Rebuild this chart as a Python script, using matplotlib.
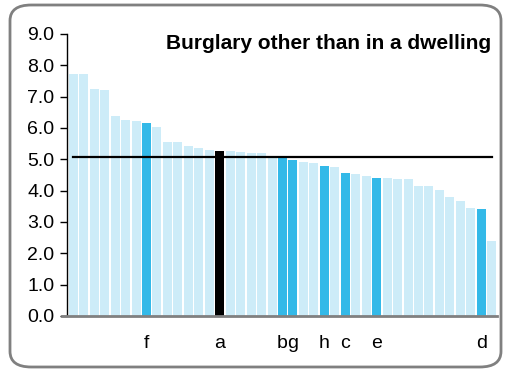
import matplotlib
matplotlib.use("Agg")
import matplotlib.pyplot as plt
from matplotlib.patches import FancyBboxPatch

plt.rcParams['font.family'] = ['Liberation Sans', 'DejaVu Sans']

# rates, sorted high to low
values = [7.73, 7.73, 7.25, 7.22, 6.39, 6.26, 6.23, 6.17, 6.04, 5.56,
          5.56, 5.43, 5.37, 5.30, 5.27, 5.27, 5.24, 5.21, 5.21, 5.12,
          5.08, 4.98, 4.92, 4.89, 4.79, 4.76, 4.57, 4.54, 4.47, 4.41,
          4.41, 4.38, 4.38, 4.15, 4.15, 4.03, 3.80, 3.67, 3.45, 3.42,
          2.40]
# labelled bars: index -> letter
marked = {7: 'f', 14: 'a', 20: 'b', 21: 'g', 24: 'h', 26: 'c', 29: 'e', 39: 'd'}
main = 14
average = 5.07

light = '#cdecf8'
mid = '#33b9e8'

colors = []
for i in range(len(values)):
    if i == main:
        colors.append('black')
    elif i in marked:
        colors.append(mid)
    else:
        colors.append(light)

fig = plt.figure(figsize=(5.06, 3.72), dpi=100)

# rounded frame
frame = FancyBboxPatch((10/506, 5/372), 491/506, 362/372,
                       boxstyle="round,pad=0,rounding_size=0.042",
                       transform=fig.transFigure, facecolor='none',
                       edgecolor='#808080', linewidth=2)
fig.patches.append(frame)

ax = fig.add_axes([67/506, 56/372, 430.5/506, 282/372])
x = range(len(values))
ax.bar(x, values, width=0.86, color=colors)
ax.plot([0, len(values) - 1], [average, average], color='black', lw=1.6)

ax.set_xlim(-0.6, 40.55)
ax.set_ylim(0, 9)
ax.set_yticks([i for i in range(10)])
ax.set_yticklabels(['%.1f' % i for i in range(10)], fontsize=14)
ax.tick_params(axis='y', length=5, width=1, direction='out', pad=4)

ticks = sorted(marked)
ax.set_xticks(ticks)
ax.set_xticklabels([marked[t] for t in ticks], fontsize=14)
ax.tick_params(axis='x', length=0, pad=14)

ax.spines['top'].set_visible(False)
ax.spines['right'].set_visible(False)
ax.spines['bottom'].set_color('#808080')
ax.spines['bottom'].set_linewidth(2)
ax.spines['bottom'].set_bounds(-0.6 - 0.5, 40.55)
ax.spines['left'].set_linewidth(1)

ax.text(0.985, 0.965, "Burglary other than in a dwelling", transform=ax.transAxes,
        ha='right', va='center', fontsize=15, fontweight='bold')

fig.savefig("out.png", dpi=100)
